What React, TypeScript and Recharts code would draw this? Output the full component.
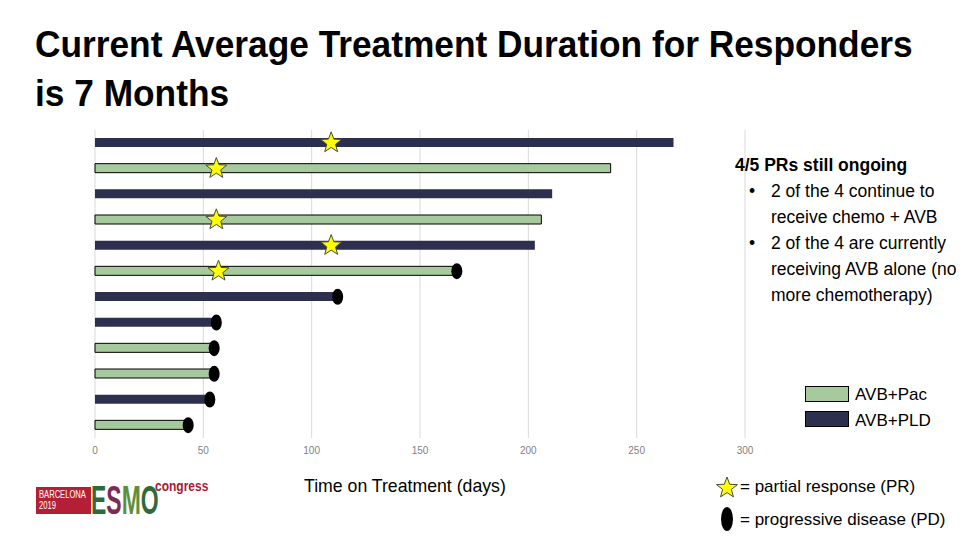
import React from "react"
import { ComposedChart, Bar, Scatter, XAxis, YAxis, CartesianGrid, Cell } from "recharts"

// one row per responder, top to bottom
const rows = ["1", "2", "3", "4", "5", "6", "7", "8", "9", "10", "11", "12"]
const arms = ["PLD", "Pac", "PLD", "Pac", "PLD", "Pac", "PLD", "PLD", "Pac", "Pac", "PLD", "Pac"]
const daysOnTreatment = [267, 238, 211, 206, 203, 167, 112, 56, 55, 55, 53, 43]
const partialResponseDay = [109, 56, null, 56, 109, 57, null, null, null, null, null, null]
const progressionDay = [null, null, null, null, null, 167, 112, 56, 55, 55, 53, 43]
const xTicks = [0, 50, 100, 150, 200, 250, 300]

const PAC = "#a6c99d"
const PLD = "#2c2f4e"
const sans = "'Liberation Sans', Arial, sans-serif"

const data = rows.map((row, i) => ({
  row,
  arm: arms[i],
  days: daysOnTreatment[i],
  pr: partialResponseDay[i],
  pd: progressionDay[i],
}))

function starPoints(cx: number, cy: number, outer: number, inner: number) {
  const pts: string[] = []
  for (let k = 0; k < 10; k++) {
    const r = k % 2 === 0 ? outer : inner
    const a = -Math.PI / 2 + (k * Math.PI) / 5
    pts.push(`${cx + r * Math.cos(a)},${cy + r * Math.sin(a)}`)
  }
  return pts.join(" ")
}

const StarShape = (props: any) => {
  const { cx, cy, payload } = props
  if (payload == null || payload.pr == null) return <g />
  return <polygon points={starPoints(cx, cy, 11, 4.6)} fill="#ffff00" stroke="#4a4a3a" strokeWidth={1} />
}

const DotShape = (props: any) => {
  const { cx, cy, payload } = props
  if (payload == null || payload.pd == null) return <g />
  return <ellipse cx={cx} cy={cy} rx={5.5} ry={8} fill="#000" />
}

// squeeze text horizontally, the slide uses a narrow face
const squeeze = (s: number): React.CSSProperties => ({
  transform: `scaleX(${s})`,
  transformOrigin: "left top",
  whiteSpace: "nowrap",
})

export default function App() {
  return (
    <div
      style={{
        position: "absolute",
        left: 0,
        top: 0,
        width: 960,
        height: 540,
        overflow: "hidden",
        background: "#fff",
        fontFamily: sans,
        color: "#000",
      }}
    >
      <div
        style={{
          position: "absolute",
          left: 35,
          top: 20,
          fontWeight: "bold",
          fontSize: 36,
          lineHeight: "49px",
          ...squeeze(0.98),
        }}
      >
        Current Average Treatment Duration for Responders
        <br />
        is 7 Months
      </div>

      <div style={{ position: "absolute", left: 0, top: 0 }}>
        <ComposedChart
          width={960}
          height={540}
          data={data}
          layout="vertical"
          margin={{ top: 130, right: 215, bottom: 72, left: 95 }}
          barCategoryGap={0}
        >
          <CartesianGrid vertical={true} horizontal={false} stroke="#d9d9d9" />
          <XAxis
            type="number"
            domain={[0, 300]}
            ticks={xTicks}
            axisLine={false}
            tickLine={false}
            tickSize={0}
            tickMargin={9}
            height={30}
            tick={{ fontSize: 10, fill: "#7f7f7f", fontFamily: sans }}
          />
          <YAxis type="category" dataKey="row" hide />
          <Bar dataKey="days" barSize={9} isAnimationActive={false}>
            {data.map((d, i) => (
              <Cell
                key={i}
                fill={d.arm === "Pac" ? PAC : PLD}
                stroke={d.arm === "Pac" ? "#000" : "none"}
                strokeWidth={1}
              />
            ))}
          </Bar>
          <Scatter dataKey="pd" shape={<DotShape />} isAnimationActive={false} />
          <Scatter dataKey="pr" shape={<StarShape />} isAnimationActive={false} />
        </ComposedChart>
      </div>

      {/* notes on the right */}
      <div style={{ position: "absolute", left: 735, top: 152, fontSize: 17.5, lineHeight: "26px", whiteSpace: "nowrap" }}>
        <div style={{ fontWeight: "bold" }}>4/5 PRs still ongoing</div>
        <div style={{ position: "relative", paddingLeft: 36 }}>
          <span style={{ position: "absolute", left: 14 }}>•</span>
          2 of the 4 continue to
          <br />
          receive chemo + AVB
        </div>
        <div style={{ position: "relative", paddingLeft: 36 }}>
          <span style={{ position: "absolute", left: 14 }}>•</span>
          2 of the 4 are currently
          <br />
          receiving AVB alone (no
          <br />
          more chemotherapy)
        </div>
      </div>

      {/* arm legend */}
      <div style={{ position: "absolute", left: 805, top: 386, width: 42, height: 14, background: PAC, border: "1px solid #000" }} />
      <div style={{ position: "absolute", left: 805, top: 411, width: 42, height: 14, background: PLD, border: "1px solid #000" }} />
      <div style={{ position: "absolute", left: 855, top: 382, fontSize: 17, lineHeight: "26px", whiteSpace: "nowrap" }}>
        AVB+Pac
        <br />
        AVB+PLD
      </div>

      {/* axis title */}
      <div style={{ position: "absolute", left: 304, top: 476, fontSize: 17.7, whiteSpace: "nowrap" }}>Time on Treatment (days)</div>

      {/* marker key */}
      <svg style={{ position: "absolute", left: 712, top: 474 }} width={30} height={60}>
        <polygon points={starPoints(15, 14, 11, 4.6)} fill="#ffff00" stroke="#4a4a3a" strokeWidth={1} />
        <ellipse cx={15} cy={45} rx={6} ry={12} fill="#000" />
      </svg>
      <div style={{ position: "absolute", left: 740, top: 477, fontSize: 17, whiteSpace: "nowrap" }}>= partial response (PR)</div>
      <div style={{ position: "absolute", left: 740, top: 510, fontSize: 17, whiteSpace: "nowrap" }}>= progressive disease (PD)</div>

      {/* congress logo */}
      <div style={{ position: "absolute", left: 36, top: 487, width: 55, height: 27, background: "#b41f35" }} />
      <div style={{ position: "absolute", left: 39, top: 489, color: "#fff", fontSize: 10, lineHeight: "11px", ...squeeze(0.76) }}>
        BARCELONA
        <br />
        2019
      </div>
      <div
        style={{
          position: "absolute",
          left: 91,
          top: 478,
          fontWeight: "bold",
          fontSize: 41,
          lineHeight: "44px",
          ...squeeze(0.56),
        }}
      >
        <span style={{ color: "#2f6b3a" }}>E</span>
        <span style={{ color: "#7d2b55" }}>S</span>
        <span style={{ color: "#5d8f3a" }}>M</span>
        <span style={{ color: "#2f6b3a" }}>O</span>
      </div>
      <div style={{ position: "absolute", left: 155, top: 478, fontWeight: "bold", fontSize: 15, lineHeight: "16px", color: "#a01c30", ...squeeze(0.8) }}>
        congress
      </div>
    </div>
  )
}
